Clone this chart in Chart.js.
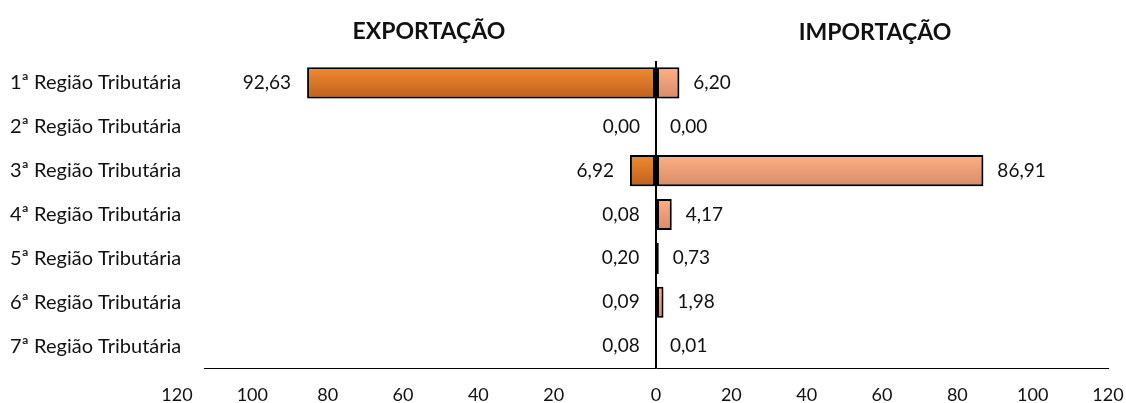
<!DOCTYPE html>
<html>
<head>
<meta charset="utf-8">
<script src="https://cdn.jsdelivr.net/npm/chart.js@4/dist/chart.umd.min.js"></script>
<style>
  html, body { margin: 0; padding: 0; background: #fff; }
  #wrap { position: relative; width: 1126px; height: 403px; }
  .titulo { position: absolute; font-family: Lato, sans-serif; font-weight: bold; font-size: 23px; color: #111; transform: translate(-50%, -50%); white-space: nowrap; }
</style>
</head>
<body>
<div id="wrap">
  <canvas id="grafico" width="1126" height="403"></canvas>
  <div class="titulo" style="left:429px; top:30px">EXPORTAÇÃO</div>
  <div class="titulo" style="left:875px; top:31px">IMPORTAÇÃO</div>
</div>
<script>
// Dados (%)
const regioes = [
  '1ª Região Tributária', '2ª Região Tributária', '3ª Região Tributária',
  '4ª Região Tributária', '5ª Região Tributária', '6ª Região Tributária',
  '7ª Região Tributária'
]
const exportacao = [92.63, 0.00, 6.92, 0.08, 0.20, 0.09, 0.08]
const importacao = [6.20, 0.00, 86.91, 4.17, 0.73, 1.98, 0.01]
const ticksEsquerda = [-120, -100, -80, -60, -40, -20]
const ticksDireita = [0, 20, 40, 60, 80, 100, 120]

const fonte = 'Lato'
const BAR_PCT = 0.71

// gradiente vertical por barra, calculado a partir da escala y
function gradiente(cores) {
  return (ctx) => {
    const chart = ctx.chart
    const y = chart.scales.y
    if (!chart.chartArea || !y || ctx.dataIndex === undefined) return cores[0]
    const centro = y.getPixelForValue(ctx.dataIndex)
    const meia = (y.height / regioes.length) * BAR_PCT / 2
    const g = chart.ctx.createLinearGradient(0, centro - meia, 0, centro + meia)
    g.addColorStop(0, cores[0])
    g.addColorStop(1, cores[1])
    return g
  }
}

// rótulos de valor fora da ponta da barra
const rotulos = {
  id: 'rotulos',
  afterDatasetsDraw(chart) {
    const ctx = chart.ctx
    ctx.save()
    ctx.font = '19px ' + fonte
    ctx.fillStyle = '#111'
    ctx.textBaseline = 'middle'
    chart.data.datasets.forEach((ds, i) => {
      const meta = chart.getDatasetMeta(i)
      meta.data.forEach((bar, j) => {
        const txt = Math.abs(ds.data[j]).toFixed(2).replace('.', ',')
        if (i === 0) {
          ctx.textAlign = 'right'
          ctx.fillText(txt, bar.x - 16, bar.y)
        } else {
          ctx.textAlign = 'left'
          ctx.fillText(txt, bar.x + 14, bar.y)
        }
      })
    })
    ctx.restore()
  }
}

// sombra leve nas barras
const sombra = {
  id: 'sombra',
  beforeDatasetsDraw(chart) {
    const ctx = chart.ctx
    ctx.save()
    ctx.shadowColor = 'rgba(0,0,0,0.25)'
    ctx.shadowBlur = 4
    ctx.shadowOffsetX = 2
    ctx.shadowOffsetY = 3
  },
  afterDatasetsDraw(chart) {
    chart.ctx.restore()
  }
}

const semPadding = (s, h) => {
  s.height = h
  s.paddingLeft = 0
  s.paddingRight = 0
}

new Chart(document.getElementById('grafico'), {
  type: 'bar',
  data: {
    labels: regioes,
    datasets: [{
      label: 'EXPORTAÇÃO',
      data: exportacao.map(v => -v),
      backgroundColor: gradiente(['#f08a32', '#c0601c']),
      borderColor: '#000',
      borderWidth: 2,
      borderSkipped: false
    }, {
      label: 'IMPORTAÇÃO',
      data: importacao,
      backgroundColor: gradiente(['#ffb083', '#d68c69']),
      borderColor: '#000',
      borderWidth: 2,
      borderSkipped: false
    }]
  },
  options: {
    indexAxis: 'y',
    responsive: false,
    animation: false,
    devicePixelRatio: 1,
    datasets: {
      bar: {
        grouped: false,
        barPercentage: BAR_PCT,
        categoryPercentage: 1
      }
    },
    layout: {
      padding: { left: 10, right: 18, top: 61, bottom: 0 }
    },
    plugins: {
      legend: { display: false },
      tooltip: { enabled: false }
    },
    scales: {
      x: {
        min: -120,
        max: 120,
        z: 1,
        afterBuildTicks: (s) => { s.ticks = ticksDireita.map(v => ({ value: v })) },
        afterFit: (s) => semPadding(s, 35),
        ticks: {
          padding: 16,
          color: '#111',
          font: { family: fonte, size: 18 },
          callback: (v) => Math.abs(v)
        },
        grid: {
          drawTicks: false,
          lineWidth: 2,
          color: (c) => c.tick && c.tick.value === 0 ? '#000' : 'rgba(0,0,0,0)'
        },
        border: { display: true, color: '#000', width: 1 }
      },
      xEsq: {
        type: 'linear',
        axis: 'x',
        min: -120,
        max: 120,
        position: { y: 6.5 },
        afterBuildTicks: (s) => { s.ticks = ticksEsquerda.map(v => ({ value: v })) },
        afterFit: (s) => semPadding(s, 35),
        ticks: {
          padding: 16,
          labelOffset: -27,
          color: '#111',
          font: { family: fonte, size: 18 },
          callback: (v) => Math.abs(v)
        },
        grid: { display: false, drawTicks: false },
        border: { display: false }
      },
      y: {
        afterFit: (s) => { s.width = 194 },
        ticks: {
          crossAlign: 'far',
          color: '#111',
          font: { family: fonte, size: 20 }
        },
        grid: { display: false },
        border: { display: false }
      }
    }
  },
  plugins: [sombra, rotulos]
})
</script>
</body>
</html>
